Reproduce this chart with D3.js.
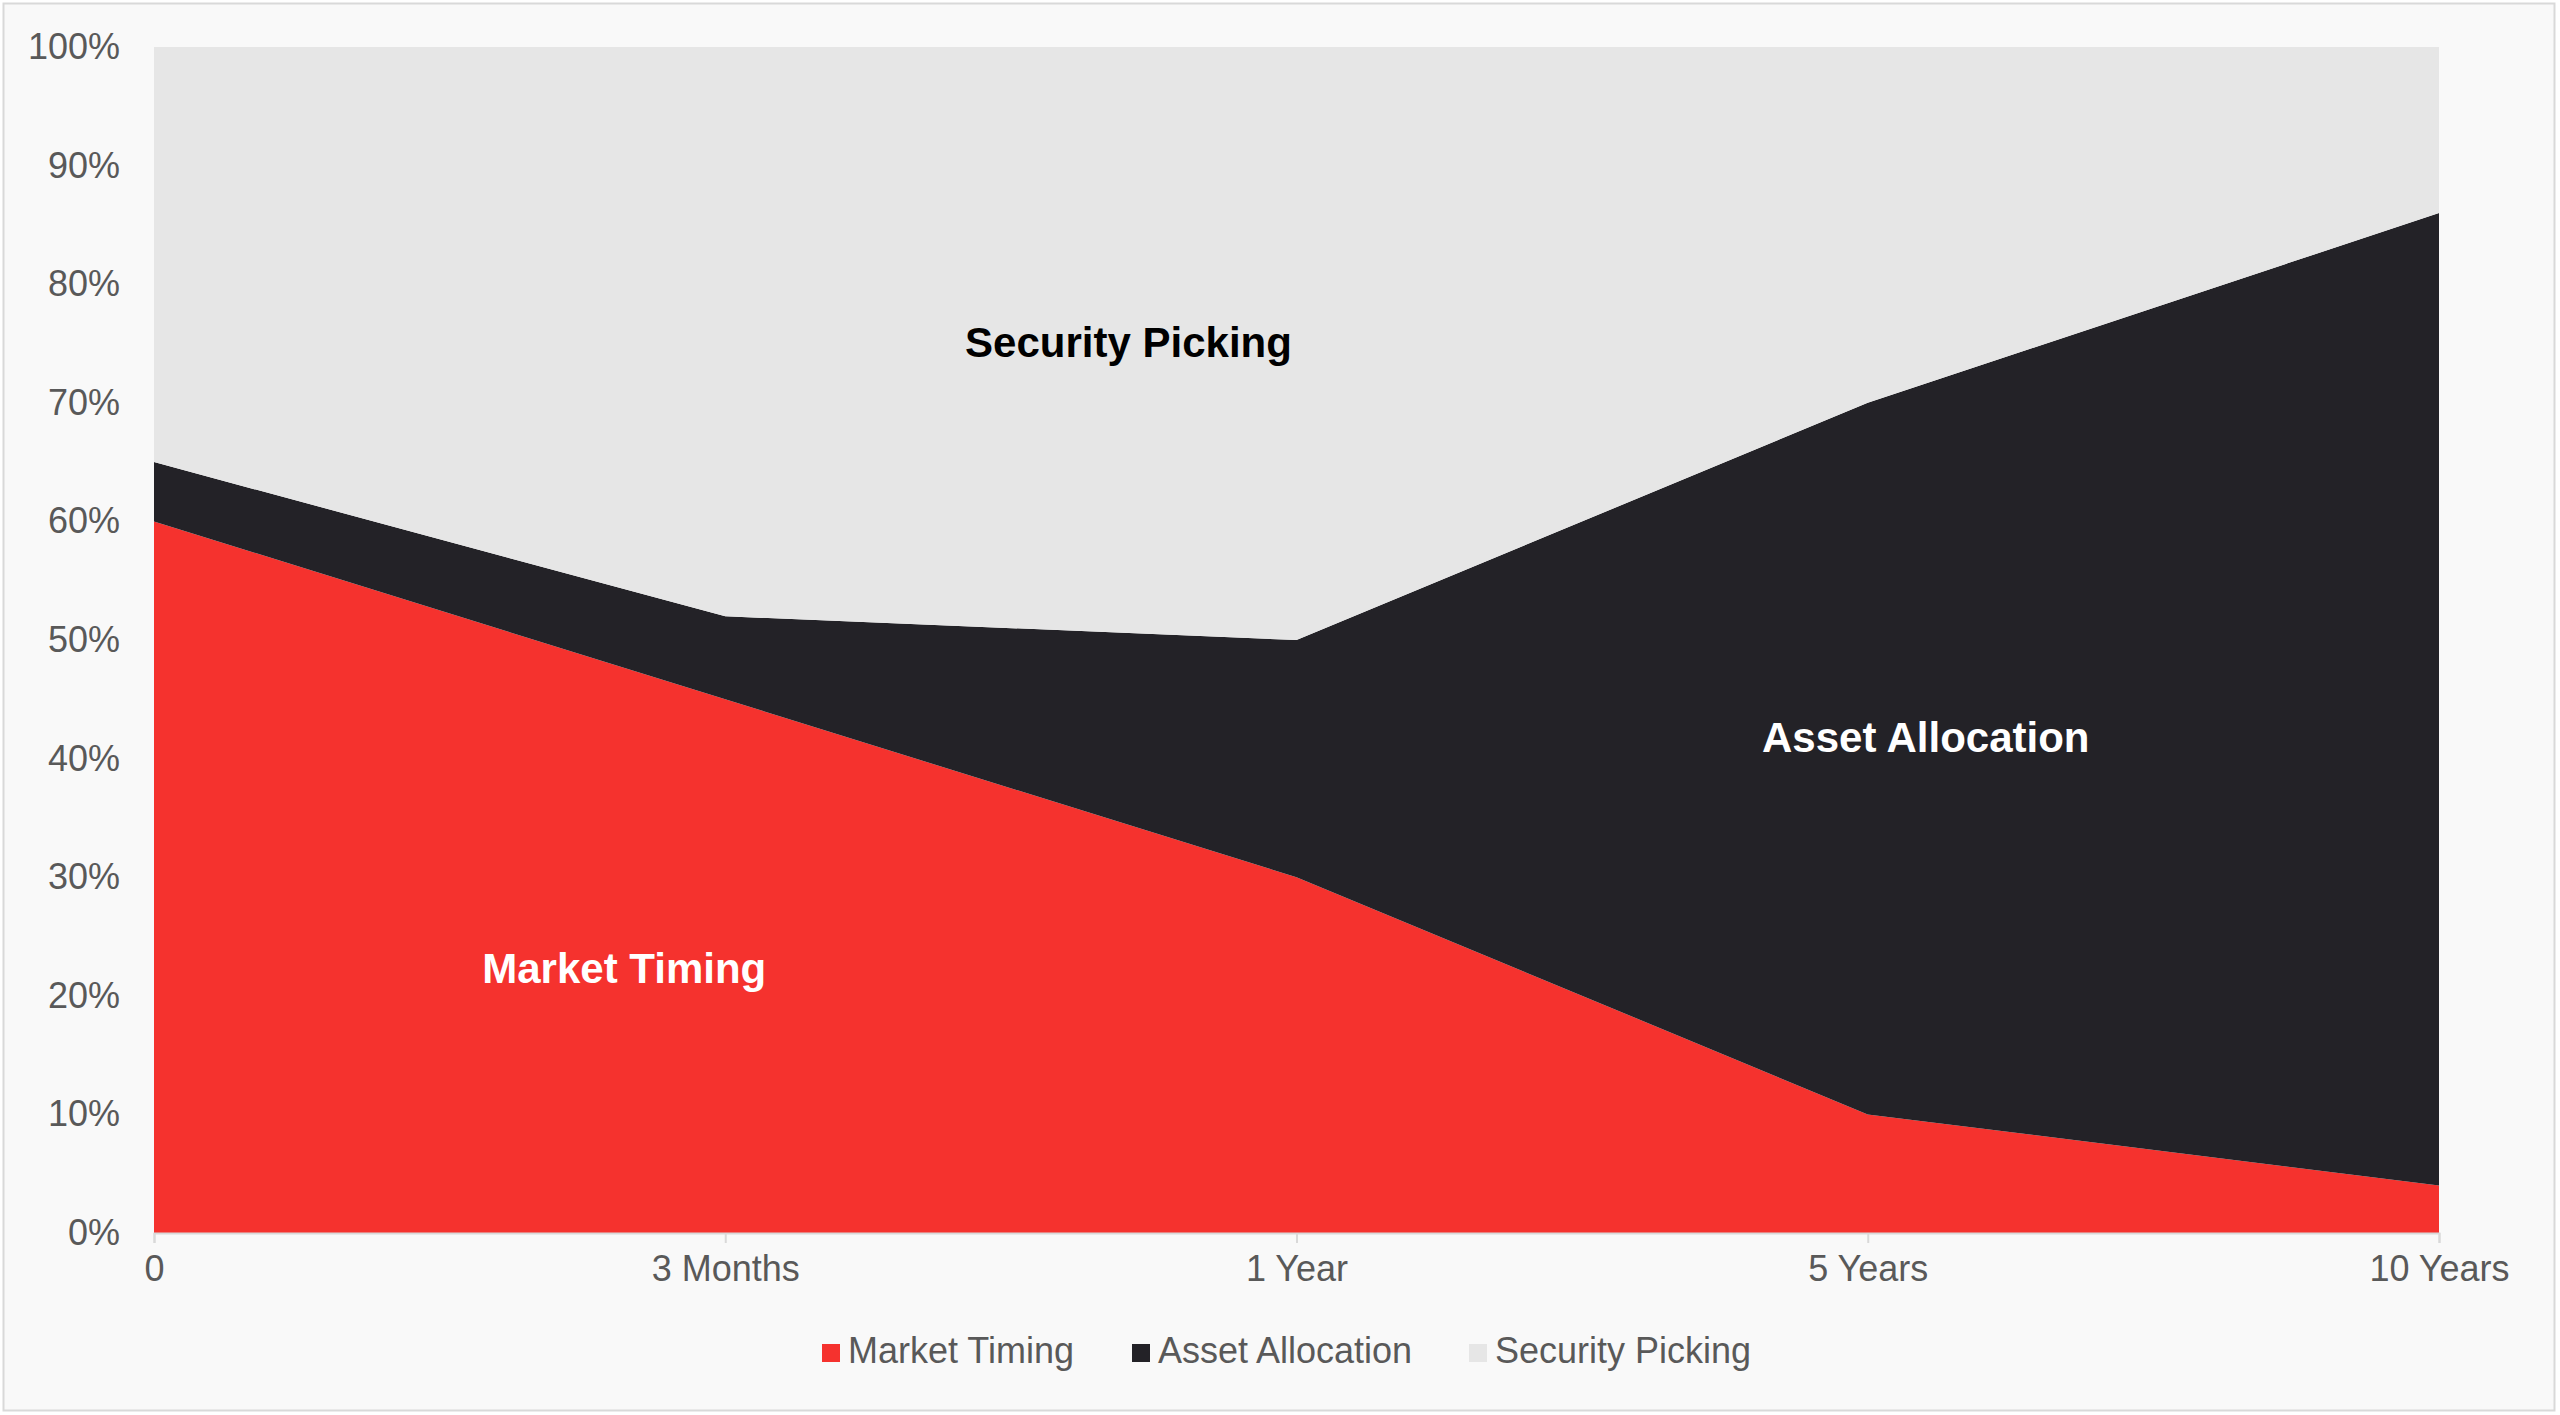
<!DOCTYPE html>
<html><head><meta charset="utf-8">
<script src="https://cdn.jsdelivr.net/npm/d3@7"></script>
<style>
body{margin:0;background:#fff;font-family:"Liberation Sans",Arial,sans-serif;}
</style></head>
<body><div id="chart"></div>
<script>
var categories = ["0", "3 Months", "1 Year", "5 Years", "10 Years"];
var marketTiming = [60, 45, 30, 10, 4];
var assetAllocation = [5, 7, 20, 60, 82];
var securityPicking = [35, 48, 50, 30, 14];
var seriesNames = ["Market Timing", "Asset Allocation", "Security Picking"];
var colors = ["#f5322e", "#232227", "#e6e6e6"];
var yTicks = [0, 10, 20, 30, 40, 50, 60, 70, 80, 90, 100];

var W = 2560, H = 1415;
var m = {left: 154, right: 2439, top: 47, bottom: 1233};

var svg = d3.select("#chart").append("svg").attr("width", W).attr("height", H);
svg.append("rect").attr("x", 3.5).attr("y", 3.5).attr("width", W - 9).attr("height", H - 8)
  .attr("fill", "#f9f9f9").attr("stroke", "#d9d9d9").attr("stroke-width", 2);

var table = categories.map(function(c, i) {
  return {cat: c, "Market Timing": marketTiming[i], "Asset Allocation": assetAllocation[i], "Security Picking": securityPicking[i]};
});
var stack = d3.stack().keys(seriesNames)(table);

var x = d3.scalePoint().domain(categories).range([m.left, m.right]);
var y = d3.scaleLinear().domain([0, 100]).range([m.bottom, m.top]);

var area = d3.area().x(function(d) { return x(d.data.cat); })
  .y0(function(d) { return y(d[0]); }).y1(function(d) { return y(d[1]); });

svg.selectAll("path.layer").data(stack).enter().append("path")
  .attr("class", "layer").attr("d", area)
  .attr("fill", function(d, i) { return colors[i]; });

var yAxis = svg.append("g").attr("transform", "translate(" + m.left + ",0)")
  .call(d3.axisLeft(y).tickValues(yTicks).tickFormat(function(d) { return d + "%"; }).tickSize(0).tickPadding(34));
yAxis.select(".domain").remove();
yAxis.selectAll("text").attr("font-size", 36).attr("fill", "#595959").attr("font-family", "Liberation Sans, Arial");

var xAxis = svg.append("g").attr("transform", "translate(0," + m.bottom + ")")
  .call(d3.axisBottom(x).tickSize(10).tickPadding(12));
xAxis.select(".domain").attr("stroke", "#d9d9d9").attr("stroke-width", 2);
xAxis.selectAll("line").attr("stroke", "#d9d9d9").attr("stroke-width", 2);
xAxis.selectAll("text").attr("font-size", 36).attr("fill", "#595959").attr("font-family", "Liberation Sans, Arial");

var labels = [
  {t: "Security Picking", x: "1 Year", xo: -168, v: 74.8, c: "#000"},
  {t: "Asset Allocation", x: "5 Years", xo: 58, v: 41.5, c: "#fff"},
  {t: "Market Timing", x: "3 Months", xo: -101, v: 22, c: "#fff"}
];
svg.selectAll("text.lab").data(labels).enter().append("text")
  .attr("x", function(d) { return x(d.x) + d.xo; }).attr("y", function(d) { return y(d.v); })
  .attr("text-anchor", "middle").attr("dominant-baseline", "middle")
  .attr("font-size", 42).attr("font-weight", "bold").attr("fill", function(d) { return d.c; })
  .text(function(d) { return d.t; });

var legX = [822, 1132, 1469];
var lg = svg.selectAll("g.leg").data(seriesNames).enter().append("g")
  .attr("transform", function(d, i) { return "translate(" + legX[i] + ",1353)"; });
lg.append("rect").attr("x", 0).attr("y", -9).attr("width", 18).attr("height", 18)
  .attr("fill", function(d, i) { return colors[i]; });
lg.append("text").attr("x", 26).attr("y", 0).attr("dominant-baseline", "middle")
  .attr("font-size", 36).attr("fill", "#595959").text(function(d) { return d; });
</script></body></html>
